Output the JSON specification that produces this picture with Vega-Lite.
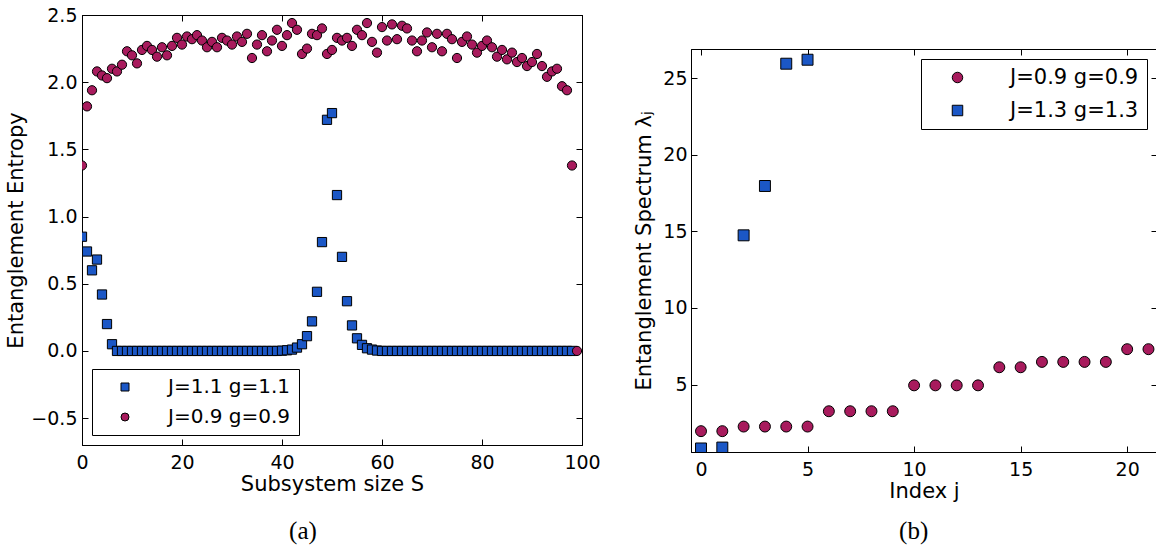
{
  "$schema": "https://vega.github.io/schema/vega-lite/v6.json",
  "padding": {"left": 5, "top": 5, "right": 0, "bottom": 0},
  "background": "white",
  "spacing": 32,
  "config": {
    "font": "DejaVu Sans",
    "view": {"stroke": "black", "strokeWidth": 1},
    "axis": {
      "grid": false,
      "domainColor": "black",
      "tickColor": "black",
      "labelColor": "black",
      "titleColor": "black",
      "labelFont": "DejaVu Sans",
      "titleFont": "DejaVu Sans",
      "labelFontSize": 19,
      "titleFontSize": 21,
      "titleFontWeight": "normal",
      "tickSize": -6,
      "labelPadding": 14,
      "labelFlush": false,
      "labelOverlap": false
    },
    "title": {"font": "Liberation Serif", "fontSize": 25, "fontWeight": "normal", "color": "black", "frame": "bounds", "anchor": "middle"}
  },
  "datasets": {
    "entropy": [
      {"S":0,"value":0.85,"series":"J=1.1 g=1.1"},{"S":1,"value":0.74,"series":"J=1.1 g=1.1"},{"S":2,"value":0.60,"series":"J=1.1 g=1.1"},{"S":3,"value":0.68,"series":"J=1.1 g=1.1"},{"S":4,"value":0.42,"series":"J=1.1 g=1.1"},{"S":5,"value":0.20,"series":"J=1.1 g=1.1"},{"S":6,"value":0.05,"series":"J=1.1 g=1.1"},{"S":7,"value":0,"series":"J=1.1 g=1.1"},{"S":8,"value":0,"series":"J=1.1 g=1.1"},{"S":9,"value":0,"series":"J=1.1 g=1.1"},{"S":10,"value":0,"series":"J=1.1 g=1.1"},{"S":11,"value":0,"series":"J=1.1 g=1.1"},{"S":12,"value":0,"series":"J=1.1 g=1.1"},{"S":13,"value":0,"series":"J=1.1 g=1.1"},{"S":14,"value":0,"series":"J=1.1 g=1.1"},{"S":15,"value":0,"series":"J=1.1 g=1.1"},{"S":16,"value":0,"series":"J=1.1 g=1.1"},{"S":17,"value":0,"series":"J=1.1 g=1.1"},{"S":18,"value":0,"series":"J=1.1 g=1.1"},{"S":19,"value":0,"series":"J=1.1 g=1.1"},{"S":20,"value":0,"series":"J=1.1 g=1.1"},{"S":21,"value":0,"series":"J=1.1 g=1.1"},{"S":22,"value":0,"series":"J=1.1 g=1.1"},{"S":23,"value":0,"series":"J=1.1 g=1.1"},{"S":24,"value":0,"series":"J=1.1 g=1.1"},{"S":25,"value":0,"series":"J=1.1 g=1.1"},{"S":26,"value":0,"series":"J=1.1 g=1.1"},{"S":27,"value":0,"series":"J=1.1 g=1.1"},{"S":28,"value":0,"series":"J=1.1 g=1.1"},{"S":29,"value":0,"series":"J=1.1 g=1.1"},{"S":30,"value":0,"series":"J=1.1 g=1.1"},{"S":31,"value":0,"series":"J=1.1 g=1.1"},{"S":32,"value":0,"series":"J=1.1 g=1.1"},{"S":33,"value":0,"series":"J=1.1 g=1.1"},{"S":34,"value":0,"series":"J=1.1 g=1.1"},{"S":35,"value":0,"series":"J=1.1 g=1.1"},{"S":36,"value":0,"series":"J=1.1 g=1.1"},{"S":37,"value":0,"series":"J=1.1 g=1.1"},{"S":38,"value":0,"series":"J=1.1 g=1.1"},{"S":39,"value":0,"series":"J=1.1 g=1.1"},{"S":40,"value":0.002,"series":"J=1.1 g=1.1"},{"S":41,"value":0.005,"series":"J=1.1 g=1.1"},{"S":42,"value":0.01,"series":"J=1.1 g=1.1"},{"S":43,"value":0.025,"series":"J=1.1 g=1.1"},{"S":44,"value":0.05,"series":"J=1.1 g=1.1"},{"S":45,"value":0.11,"series":"J=1.1 g=1.1"},{"S":46,"value":0.22,"series":"J=1.1 g=1.1"},{"S":47,"value":0.44,"series":"J=1.1 g=1.1"},{"S":48,"value":0.81,"series":"J=1.1 g=1.1"},{"S":49,"value":1.72,"series":"J=1.1 g=1.1"},{"S":50,"value":1.77,"series":"J=1.1 g=1.1"},{"S":51,"value":1.16,"series":"J=1.1 g=1.1"},{"S":52,"value":0.70,"series":"J=1.1 g=1.1"},{"S":53,"value":0.37,"series":"J=1.1 g=1.1"},{"S":54,"value":0.19,"series":"J=1.1 g=1.1"},{"S":55,"value":0.094,"series":"J=1.1 g=1.1"},{"S":56,"value":0.045,"series":"J=1.1 g=1.1"},{"S":57,"value":0.02,"series":"J=1.1 g=1.1"},{"S":58,"value":0.01,"series":"J=1.1 g=1.1"},{"S":59,"value":0.003,"series":"J=1.1 g=1.1"},{"S":60,"value":0,"series":"J=1.1 g=1.1"},{"S":61,"value":0,"series":"J=1.1 g=1.1"},{"S":62,"value":0,"series":"J=1.1 g=1.1"},{"S":63,"value":0,"series":"J=1.1 g=1.1"},{"S":64,"value":0,"series":"J=1.1 g=1.1"},{"S":65,"value":0,"series":"J=1.1 g=1.1"},{"S":66,"value":0,"series":"J=1.1 g=1.1"},{"S":67,"value":0,"series":"J=1.1 g=1.1"},{"S":68,"value":0,"series":"J=1.1 g=1.1"},{"S":69,"value":0,"series":"J=1.1 g=1.1"},{"S":70,"value":0,"series":"J=1.1 g=1.1"},{"S":71,"value":0,"series":"J=1.1 g=1.1"},{"S":72,"value":0,"series":"J=1.1 g=1.1"},{"S":73,"value":0,"series":"J=1.1 g=1.1"},{"S":74,"value":0,"series":"J=1.1 g=1.1"},{"S":75,"value":0,"series":"J=1.1 g=1.1"},{"S":76,"value":0,"series":"J=1.1 g=1.1"},{"S":77,"value":0,"series":"J=1.1 g=1.1"},{"S":78,"value":0,"series":"J=1.1 g=1.1"},{"S":79,"value":0,"series":"J=1.1 g=1.1"},{"S":80,"value":0,"series":"J=1.1 g=1.1"},{"S":81,"value":0,"series":"J=1.1 g=1.1"},{"S":82,"value":0,"series":"J=1.1 g=1.1"},{"S":83,"value":0,"series":"J=1.1 g=1.1"},{"S":84,"value":0,"series":"J=1.1 g=1.1"},{"S":85,"value":0,"series":"J=1.1 g=1.1"},{"S":86,"value":0,"series":"J=1.1 g=1.1"},{"S":87,"value":0,"series":"J=1.1 g=1.1"},{"S":88,"value":0,"series":"J=1.1 g=1.1"},{"S":89,"value":0,"series":"J=1.1 g=1.1"},{"S":90,"value":0,"series":"J=1.1 g=1.1"},{"S":91,"value":0,"series":"J=1.1 g=1.1"},{"S":92,"value":0,"series":"J=1.1 g=1.1"},{"S":93,"value":0,"series":"J=1.1 g=1.1"},{"S":94,"value":0,"series":"J=1.1 g=1.1"},{"S":95,"value":0,"series":"J=1.1 g=1.1"},{"S":96,"value":0,"series":"J=1.1 g=1.1"},{"S":97,"value":0,"series":"J=1.1 g=1.1"},{"S":98,"value":0,"series":"J=1.1 g=1.1"},
      {"S":0,"value":1.38,"series":"J=0.9 g=0.9"},{"S":1,"value":1.82,"series":"J=0.9 g=0.9"},{"S":2,"value":1.94,"series":"J=0.9 g=0.9"},{"S":3,"value":2.08,"series":"J=0.9 g=0.9"},{"S":4,"value":2.05,"series":"J=0.9 g=0.9"},{"S":5,"value":2.03,"series":"J=0.9 g=0.9"},{"S":6,"value":2.10,"series":"J=0.9 g=0.9"},{"S":7,"value":2.08,"series":"J=0.9 g=0.9"},{"S":8,"value":2.13,"series":"J=0.9 g=0.9"},{"S":9,"value":2.23,"series":"J=0.9 g=0.9"},{"S":10,"value":2.20,"series":"J=0.9 g=0.9"},{"S":11,"value":2.14,"series":"J=0.9 g=0.9"},{"S":12,"value":2.24,"series":"J=0.9 g=0.9"},{"S":13,"value":2.27,"series":"J=0.9 g=0.9"},{"S":14,"value":2.24,"series":"J=0.9 g=0.9"},{"S":15,"value":2.19,"series":"J=0.9 g=0.9"},{"S":16,"value":2.26,"series":"J=0.9 g=0.9"},{"S":17,"value":2.20,"series":"J=0.9 g=0.9"},{"S":18,"value":2.27,"series":"J=0.9 g=0.9"},{"S":19,"value":2.33,"series":"J=0.9 g=0.9"},{"S":20,"value":2.28,"series":"J=0.9 g=0.9"},{"S":21,"value":2.34,"series":"J=0.9 g=0.9"},{"S":22,"value":2.32,"series":"J=0.9 g=0.9"},{"S":23,"value":2.35,"series":"J=0.9 g=0.9"},{"S":24,"value":2.31,"series":"J=0.9 g=0.9"},{"S":25,"value":2.26,"series":"J=0.9 g=0.9"},{"S":26,"value":2.30,"series":"J=0.9 g=0.9"},{"S":27,"value":2.26,"series":"J=0.9 g=0.9"},{"S":28,"value":2.33,"series":"J=0.9 g=0.9"},{"S":29,"value":2.31,"series":"J=0.9 g=0.9"},{"S":30,"value":2.28,"series":"J=0.9 g=0.9"},{"S":31,"value":2.34,"series":"J=0.9 g=0.9"},{"S":32,"value":2.30,"series":"J=0.9 g=0.9"},{"S":33,"value":2.36,"series":"J=0.9 g=0.9"},{"S":34,"value":2.18,"series":"J=0.9 g=0.9"},{"S":35,"value":2.28,"series":"J=0.9 g=0.9"},{"S":36,"value":2.35,"series":"J=0.9 g=0.9"},{"S":37,"value":2.23,"series":"J=0.9 g=0.9"},{"S":38,"value":2.31,"series":"J=0.9 g=0.9"},{"S":39,"value":2.39,"series":"J=0.9 g=0.9"},{"S":40,"value":2.27,"series":"J=0.9 g=0.9"},{"S":41,"value":2.35,"series":"J=0.9 g=0.9"},{"S":42,"value":2.44,"series":"J=0.9 g=0.9"},{"S":43,"value":2.39,"series":"J=0.9 g=0.9"},{"S":44,"value":2.21,"series":"J=0.9 g=0.9"},{"S":45,"value":2.25,"series":"J=0.9 g=0.9"},{"S":46,"value":2.36,"series":"J=0.9 g=0.9"},{"S":47,"value":2.35,"series":"J=0.9 g=0.9"},{"S":48,"value":2.40,"series":"J=0.9 g=0.9"},{"S":49,"value":2.21,"series":"J=0.9 g=0.9"},{"S":50,"value":2.24,"series":"J=0.9 g=0.9"},{"S":51,"value":2.33,"series":"J=0.9 g=0.9"},{"S":52,"value":2.31,"series":"J=0.9 g=0.9"},{"S":53,"value":2.33,"series":"J=0.9 g=0.9"},{"S":54,"value":2.27,"series":"J=0.9 g=0.9"},{"S":55,"value":2.39,"series":"J=0.9 g=0.9"},{"S":56,"value":2.35,"series":"J=0.9 g=0.9"},{"S":57,"value":2.44,"series":"J=0.9 g=0.9"},{"S":58,"value":2.30,"series":"J=0.9 g=0.9"},{"S":59,"value":2.22,"series":"J=0.9 g=0.9"},{"S":60,"value":2.41,"series":"J=0.9 g=0.9"},{"S":61,"value":2.31,"series":"J=0.9 g=0.9"},{"S":62,"value":2.43,"series":"J=0.9 g=0.9"},{"S":63,"value":2.32,"series":"J=0.9 g=0.9"},{"S":64,"value":2.42,"series":"J=0.9 g=0.9"},{"S":65,"value":2.40,"series":"J=0.9 g=0.9"},{"S":66,"value":2.31,"series":"J=0.9 g=0.9"},{"S":67,"value":2.23,"series":"J=0.9 g=0.9"},{"S":68,"value":2.31,"series":"J=0.9 g=0.9"},{"S":69,"value":2.37,"series":"J=0.9 g=0.9"},{"S":70,"value":2.26,"series":"J=0.9 g=0.9"},{"S":71,"value":2.36,"series":"J=0.9 g=0.9"},{"S":72,"value":2.23,"series":"J=0.9 g=0.9"},{"S":73,"value":2.36,"series":"J=0.9 g=0.9"},{"S":74,"value":2.32,"series":"J=0.9 g=0.9"},{"S":75,"value":2.18,"series":"J=0.9 g=0.9"},{"S":76,"value":2.30,"series":"J=0.9 g=0.9"},{"S":77,"value":2.34,"series":"J=0.9 g=0.9"},{"S":78,"value":2.28,"series":"J=0.9 g=0.9"},{"S":79,"value":2.22,"series":"J=0.9 g=0.9"},{"S":80,"value":2.27,"series":"J=0.9 g=0.9"},{"S":81,"value":2.31,"series":"J=0.9 g=0.9"},{"S":82,"value":2.26,"series":"J=0.9 g=0.9"},{"S":83,"value":2.19,"series":"J=0.9 g=0.9"},{"S":84,"value":2.24,"series":"J=0.9 g=0.9"},{"S":85,"value":2.17,"series":"J=0.9 g=0.9"},{"S":86,"value":2.22,"series":"J=0.9 g=0.9"},{"S":87,"value":2.15,"series":"J=0.9 g=0.9"},{"S":88,"value":2.18,"series":"J=0.9 g=0.9"},{"S":89,"value":2.12,"series":"J=0.9 g=0.9"},{"S":90,"value":2.15,"series":"J=0.9 g=0.9"},{"S":91,"value":2.21,"series":"J=0.9 g=0.9"},{"S":92,"value":2.12,"series":"J=0.9 g=0.9"},{"S":93,"value":2.04,"series":"J=0.9 g=0.9"},{"S":94,"value":2.08,"series":"J=0.9 g=0.9"},{"S":95,"value":2.10,"series":"J=0.9 g=0.9"},{"S":96,"value":1.97,"series":"J=0.9 g=0.9"},{"S":97,"value":1.94,"series":"J=0.9 g=0.9"},{"S":98,"value":1.38,"series":"J=0.9 g=0.9"},{"S":99,"value":0,"series":"J=0.9 g=0.9"}
    ],
    "spectrum": [
      {"j":0,"lambda":1.96,"series":"J=0.9 g=0.9"},{"j":1,"lambda":1.96,"series":"J=0.9 g=0.9"},{"j":2,"lambda":2.26,"series":"J=0.9 g=0.9"},{"j":3,"lambda":2.26,"series":"J=0.9 g=0.9"},{"j":4,"lambda":2.26,"series":"J=0.9 g=0.9"},{"j":5,"lambda":2.26,"series":"J=0.9 g=0.9"},{"j":6,"lambda":3.26,"series":"J=0.9 g=0.9"},{"j":7,"lambda":3.26,"series":"J=0.9 g=0.9"},{"j":8,"lambda":3.26,"series":"J=0.9 g=0.9"},{"j":9,"lambda":3.26,"series":"J=0.9 g=0.9"},{"j":10,"lambda":4.95,"series":"J=0.9 g=0.9"},{"j":11,"lambda":4.95,"series":"J=0.9 g=0.9"},{"j":12,"lambda":4.95,"series":"J=0.9 g=0.9"},{"j":13,"lambda":4.95,"series":"J=0.9 g=0.9"},{"j":14,"lambda":6.13,"series":"J=0.9 g=0.9"},{"j":15,"lambda":6.13,"series":"J=0.9 g=0.9"},{"j":16,"lambda":6.48,"series":"J=0.9 g=0.9"},{"j":17,"lambda":6.48,"series":"J=0.9 g=0.9"},{"j":18,"lambda":6.48,"series":"J=0.9 g=0.9"},{"j":19,"lambda":6.48,"series":"J=0.9 g=0.9"},{"j":20,"lambda":7.31,"series":"J=0.9 g=0.9"},{"j":21,"lambda":7.31,"series":"J=0.9 g=0.9"},
      {"j":0,"lambda":0.83,"series":"J=1.3 g=1.3"},{"j":1,"lambda":0.89,"series":"J=1.3 g=1.3"},{"j":2,"lambda":14.74,"series":"J=1.3 g=1.3"},{"j":3,"lambda":17.96,"series":"J=1.3 g=1.3"},{"j":4,"lambda":25.94,"series":"J=1.3 g=1.3"},{"j":5,"lambda":26.2,"series":"J=1.3 g=1.3"}
    ]
  },
  "resolve": {"scale": {"color": "independent", "shape": "independent"}, "legend": {"color": "independent", "shape": "independent"}},
  "hconcat": [
    {
      "width": 500,
      "height": 430,
      "title": {"text": "(a)", "orient": "bottom", "offset": 25},
      "data": {"name": "entropy"},
      "resolve": {"axis": {"x": "independent", "y": "independent"}},
      "layer": [
        {
          "transform": [{"filter": "datum.series === 'J=1.1 g=1.1'"}],
          "mark": {"type": "point", "filled": true, "stroke": "black", "strokeWidth": 1, "opacity": 1, "size": 85, "clip": true},
          "encoding": {
            "x": {"field": "S", "type": "quantitative", "scale": {"domain": [0, 100], "nice": false, "zero": false}, "axis": {"orient": "bottom", "values": [0, 20, 40, 60, 80, 100], "title": "Subsystem size S", "titlePadding": 1}},
            "y": {"field": "value", "type": "quantitative", "scale": {"domain": [-0.7, 2.5], "nice": false, "zero": false}, "axis": {"orient": "left", "values": [-0.5, 0, 0.5, 1, 1.5, 2, 2.5], "format": ".1f", "title": "Entanglement Entropy", "titlePadding": 4, "labelPadding": 11}},
            "color": {"field": "series", "type": "nominal", "scale": {"domain": ["J=1.1 g=1.1", "J=0.9 g=0.9"], "range": ["#1B57C6", "#A81B5D"]}, "legend": {"orient": "bottom-left", "offset": 10, "title": null, "strokeColor": "black", "fillColor": "white", "padding": 8, "labelFontSize": 20, "labelFont": "DejaVu Sans", "labelColor": "black", "symbolSize": 64, "symbolOffset": 15, "labelOffset": 33, "rowPadding": 10, "symbolStrokeColor": "black", "symbolStrokeWidth": 1, "labelLimit": 400}},
            "shape": {"field": "series", "type": "nominal", "scale": {"domain": ["J=1.1 g=1.1", "J=0.9 g=0.9"], "range": ["square", "circle"]}, "legend": {"orient": "bottom-left", "offset": 10, "title": null, "strokeColor": "black", "fillColor": "white", "padding": 8, "labelFontSize": 20, "labelFont": "DejaVu Sans", "labelColor": "black", "symbolSize": 64, "symbolOffset": 15, "labelOffset": 33, "rowPadding": 10, "symbolStrokeColor": "black", "symbolStrokeWidth": 1, "labelLimit": 400}}
          }
        },
        {
          "transform": [{"filter": "datum.series === 'J=0.9 g=0.9'"}],
          "mark": {"type": "point", "filled": true, "stroke": "black", "strokeWidth": 1, "opacity": 1, "size": 85, "clip": true},
          "encoding": {
            "x": {"field": "S", "type": "quantitative", "scale": {"domain": [0, 100], "nice": false, "zero": false}, "axis": {"orient": "top", "values": [0, 20, 40, 60, 80, 100], "labels": false, "title": null}},
            "y": {"field": "value", "type": "quantitative", "scale": {"domain": [-0.7, 2.5], "nice": false, "zero": false}, "axis": {"orient": "right", "values": [-0.5, 0, 0.5, 1, 1.5, 2, 2.5], "labels": false, "title": null}},
            "color": {"field": "series", "type": "nominal", "scale": {"domain": ["J=1.1 g=1.1", "J=0.9 g=0.9"], "range": ["#1B57C6", "#A81B5D"]}},
            "shape": {"field": "series", "type": "nominal", "scale": {"domain": ["J=1.1 g=1.1", "J=0.9 g=0.9"], "range": ["square", "circle"]}}
          }
        }
      ]
    },
    {
      "title": {"text": "(b)", "orient": "bottom", "offset": 17, "dx": 18},
      "resolve": {"scale": {"color": "independent", "shape": "independent"}, "legend": {"color": "independent", "shape": "independent"}},
      "spacing": 0,
      "vconcat": [
        {
          "width": 466,
          "height": 33,
          "view": {"stroke": null},
          "data": {"values": [{"spacer": 1}]},
          "mark": {"type": "point", "opacity": 0},
          "encoding": {}
        },
        {
          "width": 466,
          "height": 403,
          "data": {"name": "spectrum"},
          "resolve": {"axis": {"x": "independent", "y": "independent"}},
          "layer": [
            {
              "transform": [{"filter": "datum.series === 'J=0.9 g=0.9'"}],
              "mark": {"type": "point", "filled": true, "stroke": "black", "strokeWidth": 1, "opacity": 1, "size": 120, "clip": true},
              "encoding": {
                "x": {"field": "j", "type": "quantitative", "scale": {"domain": [-0.47, 21.4], "nice": false, "zero": false}, "axis": {"orient": "bottom", "values": [0, 5, 10, 15, 20], "title": "Index j", "titlePadding": 1}},
                "y": {"field": "lambda", "type": "quantitative", "scale": {"domain": [0.6, 26.9], "nice": false, "zero": false}, "axis": {"orient": "left", "values": [5, 10, 15, 20, 25], "title": "Entanglement Spectrum λⱼ", "titlePadding": 8, "labelPadding": 10}},
                "color": {"field": "series", "type": "nominal", "scale": {"domain": ["J=0.9 g=0.9", "J=1.3 g=1.3"], "range": ["#A81B5D", "#1B57C6"]}, "legend": {"orient": "top-right", "offset": 10, "title": null, "strokeColor": "black", "fillColor": "white", "padding": 8, "labelFontSize": 21, "labelFont": "DejaVu Sans", "labelColor": "black", "symbolSize": 110, "symbolOffset": 18, "labelOffset": 42, "rowPadding": 11, "symbolStrokeColor": "black", "symbolStrokeWidth": 1, "labelLimit": 400}},
                "shape": {"field": "series", "type": "nominal", "scale": {"domain": ["J=0.9 g=0.9", "J=1.3 g=1.3"], "range": ["circle", "square"]}, "legend": {"orient": "top-right", "offset": 10, "title": null, "strokeColor": "black", "fillColor": "white", "padding": 8, "labelFontSize": 21, "labelFont": "DejaVu Sans", "labelColor": "black", "symbolSize": 110, "symbolOffset": 18, "labelOffset": 42, "rowPadding": 11, "symbolStrokeColor": "black", "symbolStrokeWidth": 1, "labelLimit": 400}}
              }
            },
            {
              "transform": [{"filter": "datum.series === 'J=1.3 g=1.3'"}],
              "mark": {"type": "point", "filled": true, "stroke": "black", "strokeWidth": 1, "opacity": 1, "size": 120, "clip": true},
              "encoding": {
                "x": {"field": "j", "type": "quantitative", "scale": {"domain": [-0.47, 21.4], "nice": false, "zero": false}, "axis": {"orient": "top", "values": [0, 5, 10, 15, 20], "labels": false, "title": null}},
                "y": {"field": "lambda", "type": "quantitative", "scale": {"domain": [0.6, 26.9], "nice": false, "zero": false}, "axis": {"orient": "right", "values": [5, 10, 15, 20, 25], "labels": false, "title": null}},
                "color": {"field": "series", "type": "nominal", "scale": {"domain": ["J=0.9 g=0.9", "J=1.3 g=1.3"], "range": ["#A81B5D", "#1B57C6"]}},
                "shape": {"field": "series", "type": "nominal", "scale": {"domain": ["J=0.9 g=0.9", "J=1.3 g=1.3"], "range": ["circle", "square"]}}
              }
            }
          ]
        }
      ]
    }
  ]
}
